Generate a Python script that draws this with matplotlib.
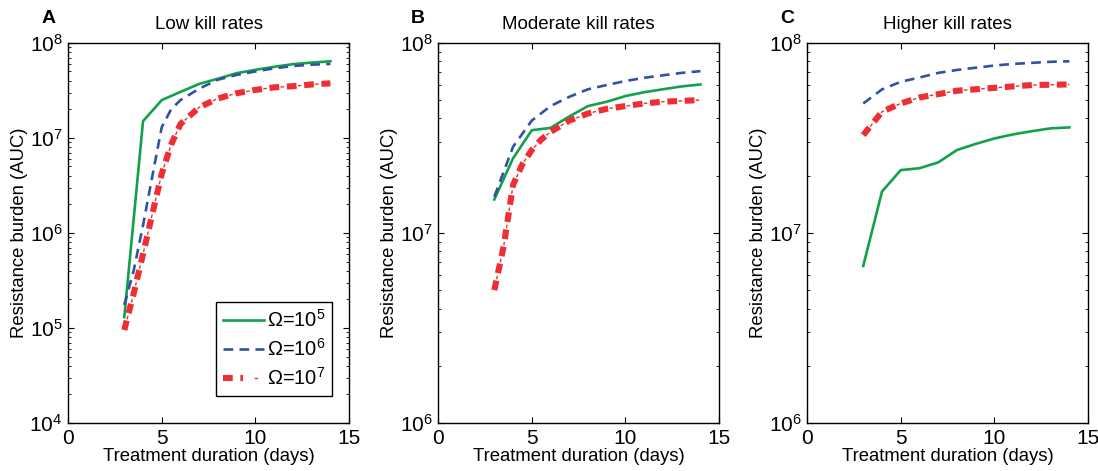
import matplotlib
matplotlib.use('Agg')
import matplotlib.pyplot as plt
from matplotlib.ticker import LogLocator, NullFormatter, LogFormatterMathtext
from matplotlib.legend_handler import HandlerTuple

plt.rcParams['font.family'] = ['Liberation Sans', 'DejaVu Sans']
plt.rcParams['mathtext.default'] = 'regular'
plt.rcParams['lines.scale_dashes'] = False

days = [3, 4, 5, 6, 7, 8, 9, 10, 11, 12, 13, 14]
days_fine = [3, 3.5, 4, 4.5, 5, 5.5, 6, 7, 8, 9, 10, 11, 12, 13, 14]

# A: low kill rates
a_green = [1.3e5, 1.5e7, 2.5e7, 3.05e7, 3.7e7, 4.2e7, 4.8e7, 5.2e7, 5.6e7, 5.97e7, 6.2e7, 6.4e7]
a_blue = [1.75e5, 4.0e5, 1.2e6, 4.0e6, 1.3e7, 2.0e7, 2.5e7, 3.3e7, 4.1e7, 4.6e7, 5.0e7, 5.4e7, 5.7e7, 5.9e7, 6.0e7]
a_red = [9.5e4, 2.3e5, 6.0e5, 1.6e6, 4.2e6, 8.5e6, 1.4e7, 2.1e7, 2.6e7, 2.95e7, 3.2e7, 3.4e7, 3.5e7, 3.65e7, 3.75e7]

# B: moderate kill rates
b_green = [1.5e7, 2.47e7, 3.47e7, 3.57e7, 4.1e7, 4.65e7, 4.9e7, 5.25e7, 5.5e7, 5.7e7, 5.9e7, 6.04e7]
b_blue = [1.55e7, 2.84e7, 3.9e7, 4.65e7, 5.2e7, 5.7e7, 6.0e7, 6.3e7, 6.55e7, 6.75e7, 6.95e7, 7.1e7]
b_red = [5.0e6, 8.5e6, 1.79e7, 2.3e7, 2.73e7, 3.1e7, 3.4e7, 3.9e7, 4.25e7, 4.5e7, 4.65e7, 4.8e7, 4.9e7, 4.95e7, 5.0e7]

# C: higher kill rates
c_green = [6.7e6, 1.65e7, 2.14e7, 2.19e7, 2.35e7, 2.73e7, 2.94e7, 3.14e7, 3.3e7, 3.43e7, 3.55e7, 3.59e7]
c_blue = [4.8e7, 5.69e7, 6.24e7, 6.57e7, 6.95e7, 7.2e7, 7.4e7, 7.6e7, 7.75e7, 7.85e7, 7.95e7, 8.0e7]
c_red = [3.27e7, 4.34e7, 4.8e7, 5.16e7, 5.37e7, 5.6e7, 5.7e7, 5.8e7, 5.9e7, 6.0e7, 6.02e7, 6.04e7]

panels = [
    ('A', 'Low kill rates', a_green, a_blue, a_red, (1e4, 1e8)),
    ('B', 'Moderate kill rates', b_green, b_blue, b_red, (1e6, 1e8)),
    ('C', 'Higher kill rates', c_green, c_blue, c_red, (1e6, 1e8)),
]
lefts = [0.062, 0.399, 0.735]

green = '#12a14a'
blue = '#3152a3'
red = '#ee2e33'

fig = plt.figure(figsize=(10.98, 4.71), dpi=100)

for i, (letter, title, g, b, r, ylim) in enumerate(panels):
    ax = fig.add_axes([lefts[i], 0.102, 0.256, 0.807])
    xb = days_fine if len(b) == len(days_fine) else days
    xr = days_fine if len(r) == len(days_fine) else days
    lg, = ax.plot(days, g, color=green, lw=1.9)
    lb, = ax.plot(xb, b, color=blue, lw=1.9, dashes=(7, 4.5))
    # red: thick dashes with a thin tick in each gap
    lr1, = ax.plot(xr, r, color=red, lw=4.4, dashes=(7, 5.5), solid_capstyle='butt')
    lr2, = ax.plot(xr, r, color=red, lw=1.0, ls=(4.5, (2.5, 10)))
    ax.set_yscale('log')
    ax.set_ylim(*ylim)
    ax.set_xlim(0, 15)
    ax.set_xticks([0, 5, 10, 15])
    ax.yaxis.set_major_locator(LogLocator(base=10))
    ax.yaxis.set_major_formatter(LogFormatterMathtext())
    ax.yaxis.set_minor_locator(LogLocator(base=10, subs=range(2, 10)))
    ax.yaxis.set_minor_formatter(NullFormatter())
    ax.tick_params(which='both', direction='in', top=True, right=True, labelsize=15, pad=4)
    ax.tick_params(which='major', length=4.5)
    ax.tick_params(which='minor', length=2.5)
    for s in ax.spines.values():
        s.set_linewidth(1.0)
    ax.set_xlabel('Treatment duration (days)', fontsize=13.3, labelpad=0)
    ax.set_ylabel('Resistance burden (AUC)', fontsize=13.3, labelpad=1)
    ax.set_title(title, fontsize=13.5, pad=10)
    ax.text(-0.096, 1.053, letter, transform=ax.transAxes, fontsize=14, fontweight='bold')
    if i == 0:
        leg = ax.legend([lg, lb, (lr1, lr2)],
                        [r'$\Omega$=10$^{5}$', r'$\Omega$=10$^{6}$', r'$\Omega$=10$^{7}$'],
                        handler_map={tuple: HandlerTuple(ndivide=None, pad=0)},
                        loc='lower right', bbox_to_anchor=(0.94, 0.071), borderaxespad=0,
                        fontsize=14.5, handlelength=2.0, handletextpad=0.15, borderpad=0.35,
                        labelspacing=0.35, fancybox=False, framealpha=1)
        leg.get_frame().set_edgecolor('black')
        leg.get_frame().set_linewidth(1.0)

fig.savefig('out.png', dpi=100)
